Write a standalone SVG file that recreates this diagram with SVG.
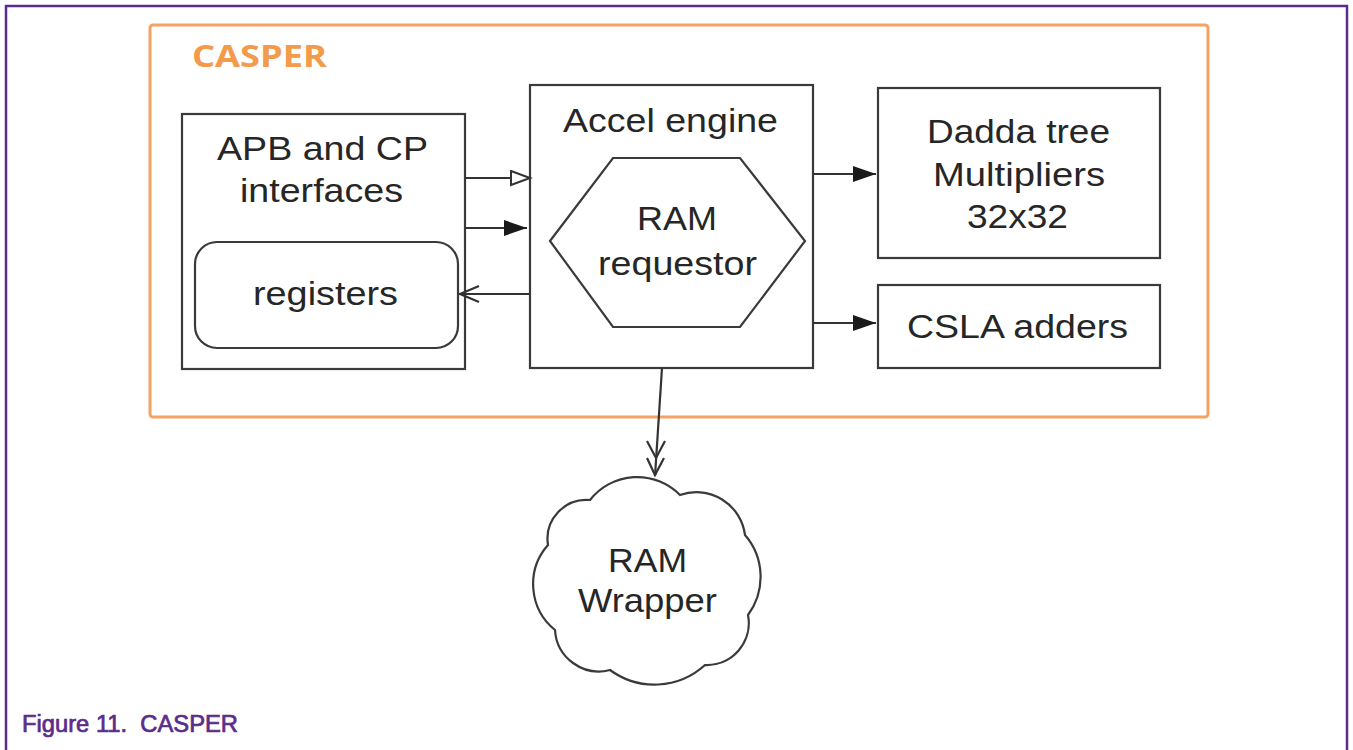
<svg xmlns="http://www.w3.org/2000/svg" width="1353" height="750" viewBox="0 0 1353 750">
<defs>
<style>
.box{fill:#fff;stroke:#3a3a3a;stroke-width:2.2}
.ln{fill:none;stroke:#333;stroke-width:2.2}
.t{font-family:"Liberation Sans",Arial,Helvetica,sans-serif;font-size:33px;fill:#262626;text-anchor:middle}
</style>
<marker id="fill" markerUnits="userSpaceOnUse" markerWidth="26" markerHeight="20" refX="23" refY="8" orient="auto">
<path d="M0,0 L23,8 L0,16 Z" fill="#1a1a1a"/>
</marker>
<marker id="hollow" markerUnits="userSpaceOnUse" markerWidth="24" markerHeight="20" refX="20" refY="8" orient="auto">
<path d="M1,1 L20,8 L1,15 Z" fill="#fff" stroke="#333" stroke-width="2"/>
</marker>
<marker id="vee" markerUnits="userSpaceOnUse" markerWidth="24" markerHeight="20" refX="20" refY="9" orient="auto">
<path d="M1,1 L20,9 L1,17" fill="none" stroke="#333" stroke-width="2.2"/>
</marker>
</defs>
<rect x="0" y="0" width="1353" height="750" fill="#fff"/>
<rect x="6" y="6" width="1341" height="760" fill="none" stroke="#5b2c8a" stroke-width="2.5"/>

<g id="casper">
<rect x="150" y="25" width="1058" height="392" rx="3" fill="none" stroke="#f5a263" stroke-width="3"/>
<text x="192" y="67" font-family="'Open Sans','Liberation Sans',sans-serif" font-weight="bold" font-size="31" fill="#f39a4b" textLength="135" lengthAdjust="spacingAndGlyphs">CASPER</text>
</g>

<g id="apb">
<rect class="box" x="182" y="114" width="283" height="255"/>
<text class="t" x="322.5" y="160" textLength="211" lengthAdjust="spacingAndGlyphs">APB and CP</text>
<text class="t" x="321.5" y="202" textLength="163" lengthAdjust="spacingAndGlyphs">interfaces</text>
</g>
<g id="registers">
<rect class="box" x="195" y="242" width="263" height="106" rx="22"/>
<text class="t" x="325.5" y="305" textLength="145" lengthAdjust="spacingAndGlyphs">registers</text>
</g>

<g id="accel">
<rect class="box" x="530" y="85" width="283" height="283"/>
<text class="t" x="670.5" y="132" textLength="215" lengthAdjust="spacingAndGlyphs">Accel engine</text>
</g>
<g id="ramreq">
<polygon class="box" points="550,241 613,158 740,158 805,241 740,327 613,327"/>
<text class="t" x="677" y="230" textLength="80" lengthAdjust="spacingAndGlyphs">RAM</text>
<text class="t" x="677.5" y="275" textLength="159" lengthAdjust="spacingAndGlyphs">requestor</text>
</g>

<g id="dadda">
<rect class="box" x="878" y="88" width="282" height="170"/>
<text class="t" x="1018.5" y="143" textLength="183" lengthAdjust="spacingAndGlyphs">Dadda tree</text>
<text class="t" x="1019" y="186" textLength="172" lengthAdjust="spacingAndGlyphs">Multipliers</text>
<text class="t" x="1017.5" y="228" textLength="101" lengthAdjust="spacingAndGlyphs">32x32</text>
</g>

<g id="csla">
<rect class="box" x="878" y="285" width="282" height="83"/>
<text class="t" x="1017.5" y="338" textLength="221" lengthAdjust="spacingAndGlyphs">CSLA adders</text>
</g>

<g id="wrapper">
<path class="box" d="M590,500 A60,60 0 0 1 680,495 A49,49 0 0 1 745,535 A64,64 0 0 1 748,615 A42,42 0 0 1 705,665 A75,75 0 0 1 610,670 A44,44 0 0 1 555,630 A59,59 0 0 1 548,545 A39,39 0 0 1 590,500 Z"/>
<text class="t" x="647.5" y="572" textLength="79" lengthAdjust="spacingAndGlyphs">RAM</text>
<text class="t" x="647.5" y="612" textLength="139" lengthAdjust="spacingAndGlyphs">Wrapper</text>
</g>

<g id="connectors">
<line class="ln" x1="465" y1="178" x2="530" y2="178" marker-end="url(#hollow)"/>
<line class="ln" x1="465" y1="228" x2="527" y2="228" marker-end="url(#fill)"/>
<line class="ln" x1="530" y1="294" x2="460" y2="294" marker-end="url(#vee)"/>
<line class="ln" x1="813" y1="174" x2="876" y2="174" marker-end="url(#fill)"/>
<line class="ln" x1="813" y1="323" x2="876" y2="323" marker-end="url(#fill)"/>
<line class="ln" x1="662" y1="368" x2="655" y2="476"/>
<path class="ln" d="M647,441 L656,458 L665,441 M647,458 L655,475 L664,458"/>
</g>

<text x="22" y="732" font-family="'Liberation Sans',Arial,sans-serif" font-size="23" fill="#5b2c8a" stroke="#5b2c8a" stroke-width="0.7" textLength="216" lengthAdjust="spacingAndGlyphs">Figure 11.&#160; CASPER</text>
</svg>
